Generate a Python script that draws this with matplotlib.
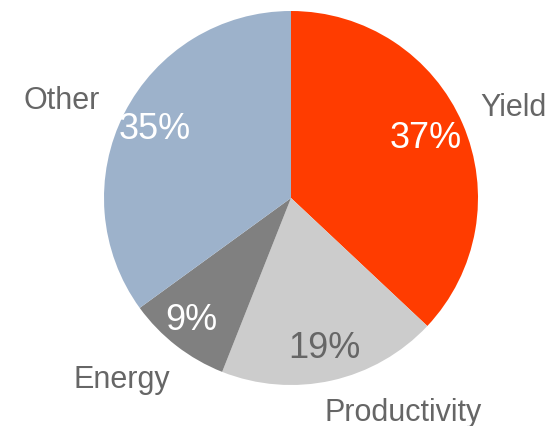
import numpy as np
import matplotlib
matplotlib.use("Agg")
import matplotlib.pyplot as plt

plt.rcParams['font.family'] = ['Liberation Sans', 'DejaVu Sans']

categories = ["Yield", "Productivity", "Energy", "Other"]
values = [37, 19, 9, 35]
colors = ["#FF3C00", "#CCCCCC", "#808080", "#9DB2CB"]
pct_colors = ["white", "#666666", "white", "white"]
label_color = "#666666"

fig = plt.figure(figsize=(5.53, 4.27), dpi=100)
ax = fig.add_axes([104 / 553, 41 / 427, 374 / 553, 374 / 427])

wedges, texts, autotexts = ax.pie(
    values, labels=categories, colors=colors, startangle=90, counterclock=False,
    autopct=lambda p: f"{p:.0f}%", pctdistance=0.82, labeldistance=1.15,
    textprops=dict(fontsize=22, color=label_color),
    wedgeprops=dict(linewidth=0),
)
for t, c in zip(autotexts, pct_colors):
    t.set_color(c)
    t.set_fontsize(26)

# small nudges of the outer labels
nudges = [(-0.045, 0.03), (-0.07, -0.02), (0.06, -0.06), (0.0, 0.0)]
for t, (dx, dy) in zip(texts, nudges):
    x, y = t.get_position()
    t.set_position((x + dx, y + dy))
x, y = autotexts[0].get_position()
autotexts[0].set_position((x - 0.03, y))
x, y = autotexts[2].get_position()
autotexts[2].set_position((x - 0.03, y))

ax.set_xlim(-1, 1)
ax.set_ylim(-1, 1)
ax.set_aspect('equal')
ax.axis('off')

fig.savefig("out.png", dpi=100)
